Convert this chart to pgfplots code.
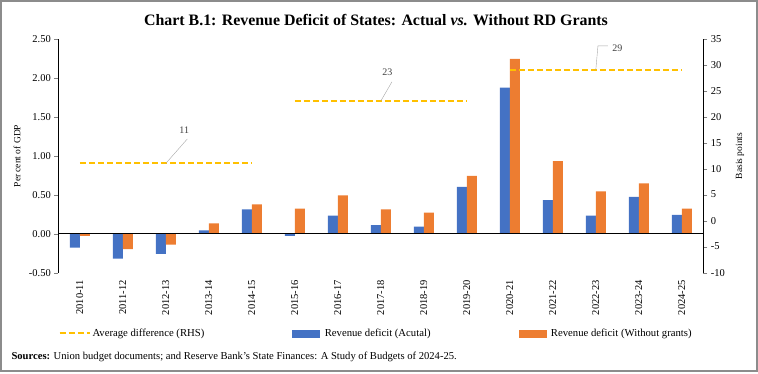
\documentclass[border=0pt]{standalone}
\usepackage{pgfplots}
\pgfplotsset{compat=1.18}
\usepackage{fontspec}
\setmainfont{Liberation Serif}
\definecolor{barblue}{HTML}{4472C4}
\definecolor{barorange}{HTML}{ED7D31}
\definecolor{avggold}{HTML}{FFC000}
\definecolor{frame}{HTML}{8C8C8C}
\pgfplotsset{
  dashleg/.style={legend image code/.code={\draw[##1] (0pt,0pt) -- (30pt,0pt);}},
  blueleg/.style={legend image code/.code={\fill[barblue] (0pt,-3.5pt) rectangle (27pt,3.5pt); \path (30pt,0pt);}},
  orangeleg/.style={legend image code/.code={\fill[barorange] (0pt,-3.5pt) rectangle (27pt,3.5pt); \path (30pt,0pt);}},
  avgline/.style={draw=avggold, color=avggold, line width=2pt, dash pattern=on 6pt off 3pt, mark=none},
}
\begin{document}
\begin{tikzpicture}
\path[use as bounding box] (0pt,0pt) rectangle (758pt,-373pt);
\draw[frame, line width=1.3pt] (1pt,-1pt) rectangle (757pt,-371pt);
\node[font=\bfseries\fontsize{15.9}{18}\selectfont] at (376pt,-20pt) {Chart B.1: Revenue Deficit of States: Actual \textit{vs.} Without RD Grants};
\node[font=\fontsize{10.6}{12}\selectfont, anchor=west] at (8pt,-357pt) {\textbf{Sources:} Union budget documents; and Reserve Bank's State Finances: A Study of Budgets of 2024-25.};
\node[font=\fontsize{9.5}{11}\selectfont, rotate=90] at (17pt,-156pt) {Per cent of GDP};
\node[font=\fontsize{9.5}{11}\selectfont, rotate=90] at (740pt,-156pt) {Basis points};
\begin{axis}[
  at={(58.3pt,-272.6pt)}, anchor=south west,
  width=645pt, height=234pt, scale only axis,
  xmin=-0.5, xmax=14.5, ymin=-0.5, ymax=2.5,
  axis y line*=left, axis x line*=bottom,
  x axis line style={draw=none},
  xtick={0,...,14},
  xticklabels={2010-11,2011-12,2012-13,2013-14,2014-15,2015-16,2016-17,2017-18,2018-19,2019-20,2020-21,2021-22,2022-23,2023-24,2024-25},
  xticklabel style={rotate=90, anchor=east, font=\fontsize{10.5}{12}\selectfont},
  xtick style={draw=none},
  ytick={-0.5,0,0.5,1,1.5,2,2.5},
  yticklabel style={font=\fontsize{10.5}{12}\selectfont},
  /pgf/number format/assume math mode=true,
  /pgf/number format/.cd, fixed, fixed zerofill, precision=2, /pgfplots/.cd,
  tick align=outside, major tick length=4pt,
]
\addplot[ybar, bar width=10pt, bar shift=-5pt, fill=barblue, draw=none] coordinates {
(0,-0.18) (1,-0.32) (2,-0.26) (3,0.04) (4,0.31) (5,-0.03) (6,0.23) (7,0.11) (8,0.09) (9,0.60) (10,1.87) (11,0.43) (12,0.23) (13,0.47) (14,0.24)};
\addplot[ybar, bar width=10pt, bar shift=5pt, fill=barorange, draw=none] coordinates {
(0,-0.03) (1,-0.20) (2,-0.14) (3,0.13) (4,0.375) (5,0.32) (6,0.49) (7,0.31) (8,0.27) (9,0.74) (10,2.24) (11,0.93) (12,0.54) (13,0.645) (14,0.32)};
\draw[black, line width=0.8pt] (axis cs:-0.5,0) -- (axis cs:14.5,0);
\end{axis}
\begin{axis}[
  at={(58.3pt,-272.6pt)}, anchor=south west,
  width=645pt, height=234pt, scale only axis,
  xmin=-0.5, xmax=14.5, ymin=-10, ymax=35,
  axis y line*=right, axis x line=none,
  ytick={-10,-5,...,35},
  yticklabel style={font=\fontsize{10.5}{12}\selectfont},
  /pgf/number format/assume math mode=true,
  tick align=outside, major tick length=4pt,
  legend columns=3,
  legend style={at={(axis description cs:0,-0.26)}, anchor=west, draw=none, fill=none, inner sep=0pt,
    font=\fontsize{10.7}{12}\selectfont, /tikz/every even column/.append style={column sep=86pt}},
  legend cell align=left,
]
\addplot[avgline, dashleg] coordinates {(0,11) (4,11)};
\addlegendentry{Average difference (RHS)}
\addplot[avgline, forget plot] coordinates {(5,23) (9,23)};
\addplot[avgline, forget plot] coordinates {(10,29) (14,29)};
\addlegendimage{blueleg}
\addlegendentry{Revenue deficit (Acutal)}
\addlegendimage{orangeleg}
\addlegendentry{Revenue deficit (Without grants)}
\draw[gray!70] (axis cs:2,11) -- (axis cs:2.5,15.7);
\node[font=\fontsize{10}{11}\selectfont, text=black!75] at (axis cs:2.43,17.4) {11};
\draw[gray!70] (axis cs:7,23) -- (axis cs:7.26,26.7);
\node[font=\fontsize{10}{11}\selectfont, text=black!75] at (axis cs:7.15,28.6) {23};
\draw[gray!70] (axis cs:12,29) -- (axis cs:12.05,33.6) -- (axis cs:12.28,33.6);
\node[font=\fontsize{10}{11}\selectfont, text=black!75] at (axis cs:12.5,33.2) {29};
\end{axis}
\end{tikzpicture}
\end{document}
